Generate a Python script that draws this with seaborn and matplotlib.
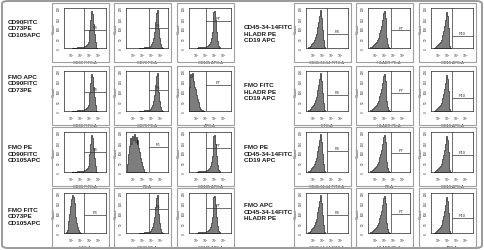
import numpy as np
import pandas as pd
import seaborn as sns
import matplotlib.pyplot as plt
from matplotlib.patches import Rectangle, FancyBboxPatch

sns.set_style("white")
plt.rcParams['font.family'] = ['Liberation Sans', 'DejaVu Sans']

# histogram counts, one value per 0.1-decade bin; *_start = log10 of first bin edge
cd90_start = 2.0
cd90 = [2, 2, 2, 2, 2, 2, 3, 3, 4, 4, 4, 5, 6, 7, 8, 10, 14, 20, 32, 56,
        90, 140, 184, 170, 120, 70, 30, 10, 2]
cd73_start = 2.6
cd73 = [2, 2, 2, 2, 2, 3, 3, 3, 4, 5, 6, 7, 9, 12, 18, 28, 48, 80, 130, 176,
        188, 150, 96, 50, 20, 6, 2]
cd105_start = 2.0
cd105 = [2, 3, 3, 3, 3, 4, 4, 4, 5, 6, 7, 8, 10, 14, 20, 30, 48, 80, 130, 180,
         186, 140, 80, 36, 12, 3]
apc_fmo_start = 1.1
apc_fmo = [120, 185, 170, 190, 160, 150, 120, 110, 80, 60, 45, 30, 20, 12, 6, 3, 1]
pe_fmo_start = 1.2
pe_fmo = [40, 90, 130, 150, 170, 140, 180, 160, 190, 150, 175, 140, 160, 120, 100,
          70, 50, 30, 15, 6, 2, 1]
fitc_fmo_start = 1.3
fitc_fmo = [6, 16, 34, 60, 95, 135, 170, 188, 180, 150, 115, 80, 50, 28, 14, 6, 2]
cd45_start = 1.3
cd45 = [3, 5, 8, 12, 18, 24, 32, 42, 54, 68, 84, 104, 130, 160, 190, 150, 90, 40, 14, 4]
hladr_start = 1.3
hladr = [3, 5, 7, 10, 14, 19, 25, 32, 40, 50, 62, 76, 92, 112, 140, 175, 186, 150,
         95, 50, 20, 6, 2]
cd19_start = 1.4
cd19 = [2, 4, 6, 9, 13, 18, 24, 31, 40, 52, 66, 84, 108, 140, 178, 160, 100, 40, 10, 2]

left_rows = ["CD90FITC\nCD73PE\nCD105APC",
             "FMO APC\nCD90FITC\nCD73PE",
             "FMO PE\nCD90FITC\nCD105APC",
             "FMO FITC\nCD73PE\nCD105APC"]
right_rows = ["CD45-34-14FITC\nHLADR PE\nCD19 APC",
              "FMO FITC\nHLADR PE\nCD19 APC",
              "FMO PE\nCD45-34-14FITC\nCD19 APC",
              "FMO APC\nCD45-34-14FITC\nHLADR PE"]

left_xlabels = [["CD90 FITC-A", "CD73 PE-A", "CD105 APC-A"],
                ["CD90 FITC-A", "CD73 PE-A", "APC-A"],
                ["CD90 FITC-A", "PE-A", "CD105 APC-A"],
                ["FITC-A", "CD73 PE-A", "CD105 APC-A"]]
right_xlabels = [["CD45-34-14 FITC-A", "HLADR PE-A", "CD19 APC-A"],
                 ["FITC-A", "HLADR PE-A", "CD19 APC-A"],
                 ["CD45-34-14 FITC-A", "PE-A", "CD19 APC-A"],
                 ["CD45-34-14 FITC-A", "HLADR PE-A", "APC-A"]]

left_hists = [[(cd90_start, cd90), (cd73_start, cd73), (cd105_start, cd105)],
              [(cd90_start, cd90), (cd73_start, cd73), (apc_fmo_start, apc_fmo)],
              [(cd90_start, cd90), (pe_fmo_start, pe_fmo), (cd105_start, cd105)],
              [(fitc_fmo_start, fitc_fmo), (cd73_start, cd73), (cd105_start, cd105)]]
right_hists = [[(cd45_start, cd45), (hladr_start, hladr), (cd19_start, cd19)]] * 4

# gates: vertical cut (log10) and height of horizontal marker (fraction of y range)
left_gate_x = [3.4, 3.7, 3.0]
right_gate_x = [3.5, 3.75, 3.45]
left_gate_y = [[0.46, 0.50, 0.67], [0.48, 0.53, 0.66], [0.50, 0.63, 0.60], [0.45, 0.60, 0.62]]
right_gate_y = [[0.36, 0.44, 0.30], [0.40, 0.45, 0.33], [0.52, 0.48, 0.42], [0.46, 0.48, 0.38]]
left_gates = ["P3", "P5", "P7"]
right_gates = ["P4", "P7", "P10"]

W, H = 484, 251
fig = plt.figure(figsize=(W / 100, H / 100), dpi=100)

fig.add_artist(FancyBboxPatch((2 / W, 2 / H), 480 / W, 247 / H,
                              boxstyle="round,pad=0,rounding_size=0.012",
                              transform=fig.transFigure, fill=False,
                              ec="#9a9a9a", lw=1.4))

row_tops = [4, 67, 128, 189]
left_cols = [52, 114, 177]
right_cols = [294, 356, 419]
box_w, box_h = 57, 59
XMIN, XMAX, YMAX = 1.1, 5.9, 200


def panel(x0, y0, start, counts, xlabel, gx, gy, gname):
    fig.add_artist(Rectangle((x0 / W, 1 - (y0 + box_h) / H), box_w / W, box_h / H,
                             transform=fig.transFigure, fill=False, ec="#a0a0a0", lw=0.8))
    ax = fig.add_axes([(x0 + 12) / W, 1 - (y0 + 45) / H, 42 / W, 40 / H])
    edges = [round(start + 0.1 * i, 3) for i in range(len(counts) + 1)]
    d = pd.DataFrame({"x": [e + 0.05 for e in edges[:-1]], "n": counts})
    sns.histplot(data=d, x="x", weights="n", bins=edges, element="step", fill=True,
                 facecolor="#7d7d7d", edgecolor="#1e1e1e", linewidth=0.45, alpha=1, ax=ax)
    ax.set_xlim(XMIN, XMAX)
    ax.set_ylim(0, YMAX)
    ax.axvline(gx, color="#333333", lw=0.5)
    ax.hlines(gy * YMAX, gx, XMAX, color="#333333", lw=0.5)
    ax.text((gx + XMAX) / 2, gy * YMAX + 4, gname, fontsize=2.8, ha="center", va="bottom")
    ax.set_xticks([2, 3, 4, 5])
    ax.set_xticklabels(["$10^2$", "$10^3$", "$10^4$", "$10^5$"])
    ax.set_yticks([0, 50, 100, 150, 200])
    ax.tick_params(labelsize=2.2, length=1.5, width=0.4, pad=0.8, direction="out")
    plt.setp(ax.get_yticklabels(), rotation=90, va="center")
    ax.set_xlabel(xlabel, fontsize=2.8, labelpad=1)
    ax.set_ylabel("Count", fontsize=2.8, labelpad=1)
    for s in ax.spines.values():
        s.set_linewidth(0.5)
        s.set_color("#222222")


for r in range(4):
    for c in range(3):
        s, cnt = left_hists[r][c]
        panel(left_cols[c], row_tops[r], s, cnt, left_xlabels[r][c],
              left_gate_x[c], left_gate_y[r][c], left_gates[c])
        s, cnt = right_hists[r][c]
        panel(right_cols[c], row_tops[r], s, cnt, right_xlabels[r][c],
              right_gate_x[c], right_gate_y[r][c], right_gates[c])

left_label_y = [29, 84, 154, 217]
right_label_y = [34, 92, 154, 212]
for r in range(4):
    fig.text(8 / W, 1 - left_label_y[r] / H, left_rows[r], fontsize=4.6,
             fontweight="bold", va="center", ha="left", linespacing=1.3, color="#1a1a1a")
    fig.text(244 / W, 1 - right_label_y[r] / H, right_rows[r], fontsize=4.6,
             fontweight="bold", va="center", ha="left", linespacing=1.3, color="#1a1a1a")

fig.savefig("out.png", dpi=100)
